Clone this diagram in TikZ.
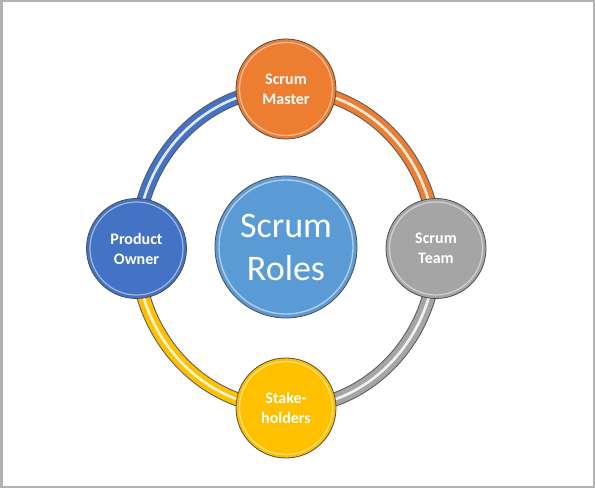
\documentclass[tikz,border=0pt]{standalone}
\usepackage{fontspec}
\setmainfont{Carlito}
\begin{document}
\begin{tikzpicture}[x=1pt,y=1pt,
  role/.style={circle, minimum size=100pt, inner sep=0pt, draw=black!70, line width=0.8pt,
    text=white, font=\bfseries\fontsize{16}{20}\selectfont, align=center},
  hub/.style={circle, minimum size=142pt, inner sep=0pt, draw=black!70, line width=0.8pt,
    fill=hubblue, text=white, font=\fontsize{36}{43}\selectfont, align=center},
]
\definecolor{mblue}{HTML}{4472C4}
\definecolor{morange}{HTML}{ED7D31}
\definecolor{mgray}{HTML}{A5A5A5}
\definecolor{myellow}{HTML}{FFC000}
\definecolor{hubblue}{HTML}{5B9BD5}

% frame
\useasboundingbox (0,0) rectangle (595,488);
\draw[line width=2.5pt, draw=black!30] (1.25,1.25) rectangle (593.75,486.75);

% ring anchor points
\coordinate (pTop) at (286,399);
\coordinate (pRight) at (436,239.5);
\coordinate (pBot) at (286,80);
\coordinate (pLeft) at (136.5,239.5);

% ring segments: outline, colour, highlight
\foreach \p/\a/\b/\c in {pLeft/180/90/mblue, pTop/90/0/morange, pRight/0/-90/mgray, pBot/-90/-180/myellow}{
  \draw[line width=14pt, draw=black!65] (\p) arc[start angle=\a, end angle=\b, x radius=149.5, y radius=159.5];
  \draw[line width=12pt, draw=\c] (\p) arc[start angle=\a, end angle=\b, x radius=149.5, y radius=159.5];
  \draw[line width=2.6pt, draw=white, opacity=0.85] (\p) arc[start angle=\a, end angle=\b, x radius=149.5, y radius=159.5];
}

% role circles
\node[role, fill=morange] (master) at (pTop) {Scrum\\Master};
\node[role, fill=mgray] (team) at (pRight) {Scrum\\Team};
\node[role, fill=myellow] (stake) at (pBot) {Stake-\\holders};
\node[role, fill=mblue] (owner) at (pLeft) {Product\\Owner};
\node[hub] (roles) at (286,241) {Scrum\\Roles};

% glossy inner rims
\foreach \n in {master, team, stake, owner}{
  \draw[white, opacity=0.5, line width=1.2pt] (\n.center) circle[radius=46.5pt];
}
\draw[white, opacity=0.5, line width=1.4pt] (roles.center) circle[radius=67pt];
\end{tikzpicture}
\end{document}
